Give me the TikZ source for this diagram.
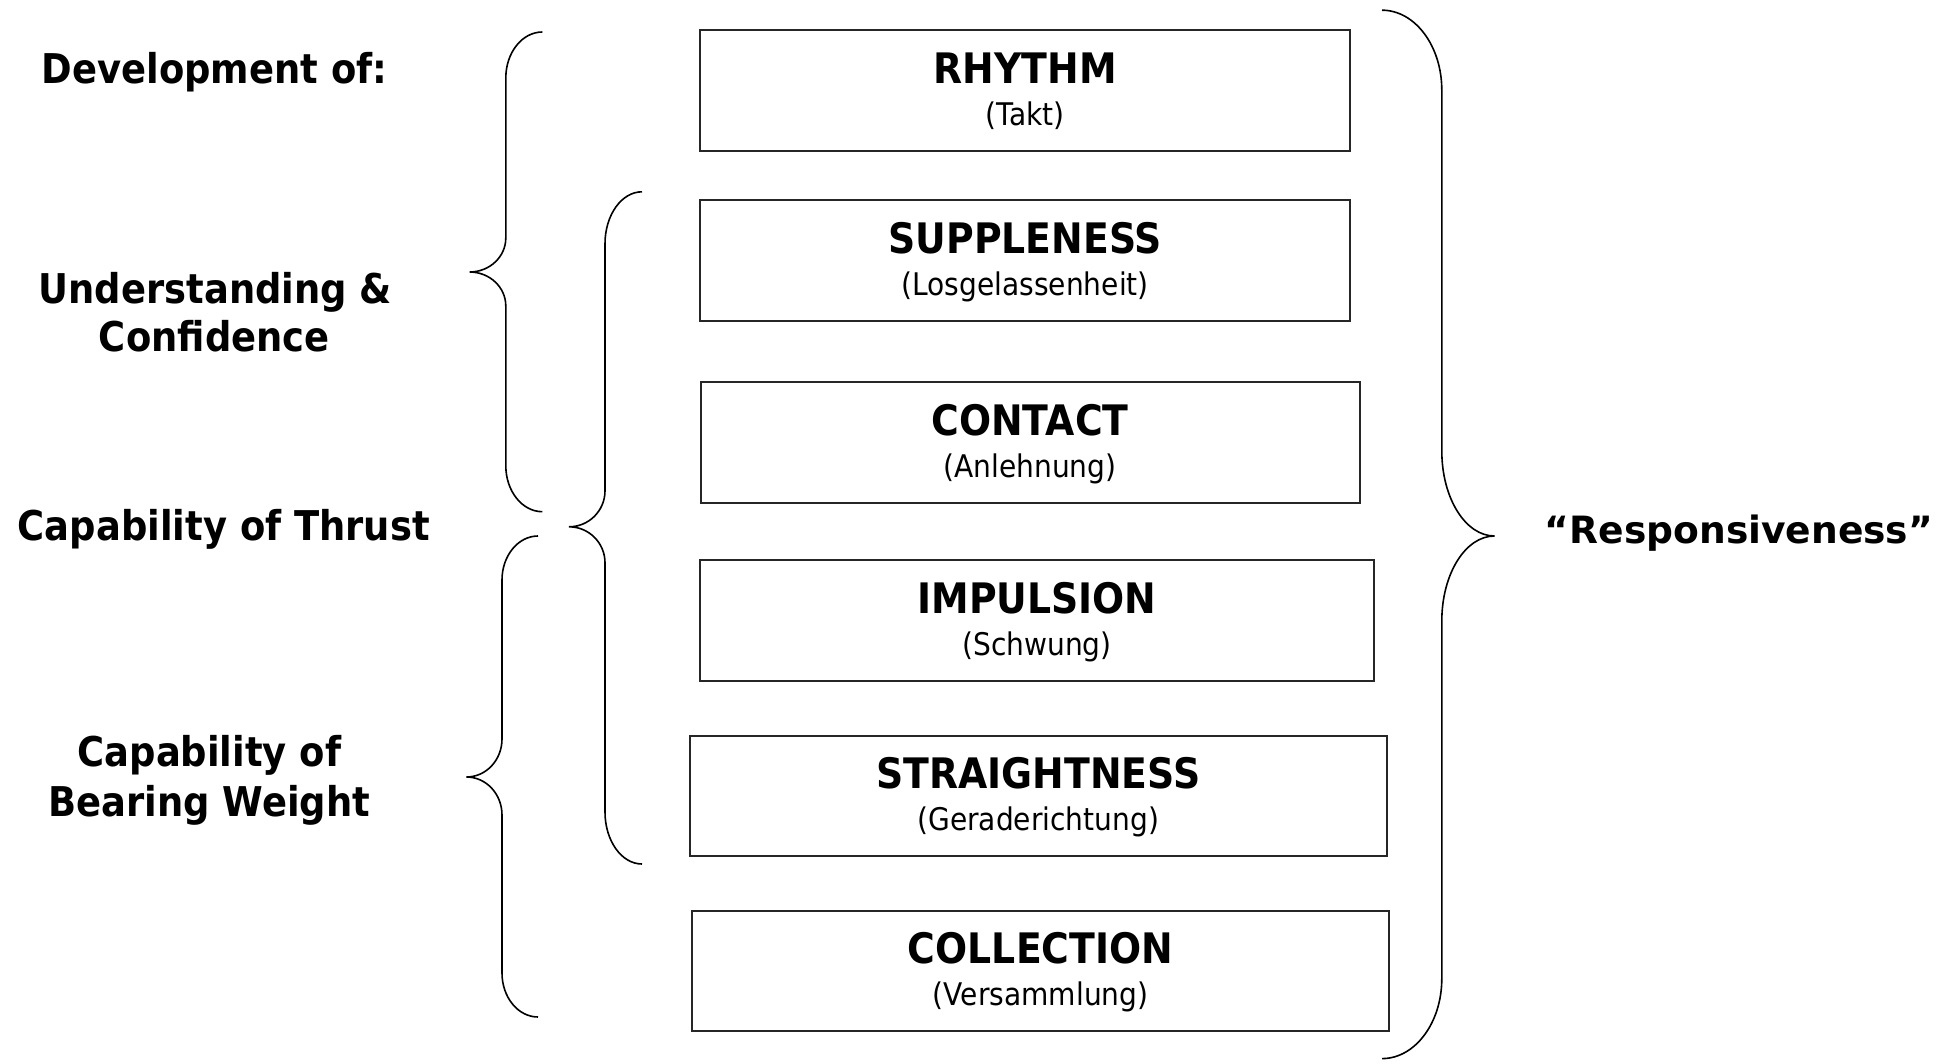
\documentclass[tikz,border=0pt]{standalone}
\usepackage{fontspec}
\setmainfont{DejaVu Sans}
\newfontfamily\narrowfont{DejaVu Sans}[FakeStretch=0.9]
\usetikzlibrary{calc}

% curly brace: end x, spine x, tip x, top y, tip y, bottom y, end radius, tip radius
\newcommand\drawcurlybrace[8]{%
  \draw[bracestyle] (#1,#4)
    .. controls ({#1+0.5523*(#2-#1)},#4) and (#2,{#4+0.4477*#7}) .. (#2,{#4+#7})
    -- (#2,{#5-#8})
    .. controls (#2,{#5-0.4477*#8}) and ({#3+0.5523*(#2-#3)},#5) .. (#3,#5)
    .. controls ({#3+0.5523*(#2-#3)},#5) and (#2,{#5+0.4477*#8}) .. (#2,{#5+#8})
    -- (#2,{#6-#7})
    .. controls (#2,{#6-0.4477*#7}) and ({#1+0.5523*(#2-#1)},#6) .. (#1,#6);
}

\tikzset{
  stage/.style={draw=black!85, line width=1pt, rectangle, inner sep=0pt,
    minimum height=60.25pt, minimum width=#1*0.5pt},
  title/.style={anchor=base, inner sep=0pt,
    font=\narrowfont\bfseries\fontsize{21}{25}\selectfont},
  sub/.style={anchor=base, inner sep=0pt,
    font=\narrowfont\fontsize{15.6}{19}\selectfont},
  side/.style={anchor=base, inner sep=0pt,
    font=\narrowfont\bfseries\fontsize{20.5}{25}\selectfont},
  bracestyle/.style={draw=black, line width=0.8pt},
}

\begin{document}
\begin{tikzpicture}[x=0.5pt, y=-0.5pt]
\useasboundingbox (0,0) rectangle (1950,1064);

% training scale boxes
\node[stage=649.5] (rhythm) at (1025.2,90.6) {};
\node[title] (rhythmT) at ($(rhythm.north)+(0,54)$) {RHYTHM};
\node[sub] (rhythmS) at ($(rhythm.north)+(0,96)$) {(Takt)};

\node[stage=649.5] (supple) at (1025.2,260.4) {};
\node[title] (suppleT) at ($(supple.north)+(0,54)$) {SUPPLENESS};
\node[sub] (suppleS) at ($(supple.north)+(0,96)$) {(Losgelassenheit)};

\node[stage=659] (contact) at (1030,442.5) {};
\node[title] (contactT) at ($(contact.north)+(0,54)$) {CONTACT};
\node[sub] (contactS) at ($(contact.north)+(0,96)$) {(Anlehnung)};

\node[stage=673.2] (impulse) at (1037,620.5) {};
\node[title] (impulseT) at ($(impulse.north)+(0,54)$) {IMPULSION};
\node[sub] (impulseS) at ($(impulse.north)+(0,96)$) {(Schwung)};

\node[stage=697] (straight) at (1038.2,795.9) {};
\node[title] (straightT) at ($(straight.north)+(0,54)$) {STRAIGHTNESS};
\node[sub] (straightS) at ($(straight.north)+(0,96)$) {(Geraderichtung)};

\node[stage=697] (collect) at (1040.6,971) {};
\node[title] (collectT) at ($(collect.north)+(0,54)$) {COLLECTION};
\node[sub] (collectS) at ($(collect.north)+(0,96)$) {(Versammlung)};

% side labels
\node[side] (dev) at (214.5,83.9) {Development of:};
\node[side] (under1) at (215.4,303.6) {Understanding \&};
\node[side] (under2) at (214.3,351.8) {Confidence};
\node[side] (thrust) at (223.8,540) {Capability of Thrust};
\node[side] (bear1) at (209.4,766.2) {Capability of};
\node[side] (bear2) at (209.3,816.5) {Bearing Weight};
\node[anchor=base, inner sep=0pt, font=\bfseries\fontsize{18.8}{22}\selectfont]
  (resp) at (1739,543) {“Responsiveness”};

% braces
\drawcurlybrace{542.4}{505.8}{469.6}{32}{272}{511.7}{46}{34}
\drawcurlybrace{642}{605}{569}{191.8}{526.8}{864}{52}{36}
\drawcurlybrace{538}{502}{466.5}{536}{777}{1017}{44}{38}
\drawcurlybrace{1382}{1441.8}{1494.5}{10.2}{536}{1058.6}{80}{85}
\end{tikzpicture}
\end{document}
